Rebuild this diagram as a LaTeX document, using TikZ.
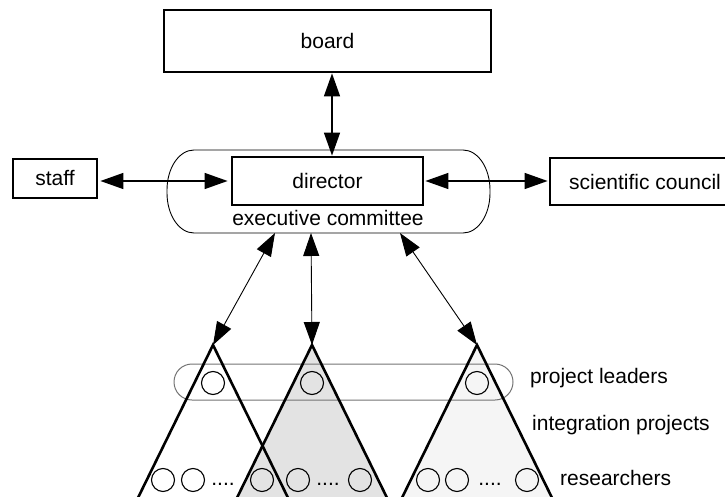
\documentclass[tikz,border=0pt]{standalone}
\usepackage{fontspec}
\setmainfont{Liberation Sans}
\usetikzlibrary{arrows.meta}
\begin{document}
\begin{tikzpicture}[x=1pt,y=1pt,
  every node/.style={font=\fontsize{21}{25}\selectfont},
  box/.style={draw, line width=2.8pt, inner sep=0pt},
  link/.style={{Triangle[length=23pt,width=16pt]}-{Triangle[length=23pt,width=16pt]}, line width=1.4pt},
  sublink/.style={link, line width=0.9pt},
  tri/.style={line width=2.6pt, line join=miter},
  member/.style={draw, circle, line width=1.1pt, minimum size=23pt, inner sep=0pt},
  ellipsis/.style={anchor=base, inner sep=0pt},
  sidetext/.style={anchor=base west, inner sep=0pt},
  band/.style={draw=black!55, line width=1pt, rounded corners=18pt, inner sep=0pt},
  fillmid/.style={fill=black!11},
  filllight/.style={fill=black!4}]
\useasboundingbox (0,0) rectangle (725,-497);

% top level boxes
\node[box, minimum width=327pt, minimum height=62pt] (board) at (327.5,-41) {board};
\node[box, minimum width=191pt, minimum height=48pt] (director) at (327.5,-181) {director};
\node[box, minimum width=84pt, minimum height=39pt] (staff) at (55,-178.5) {staff};
\node[box, minimum width=190pt, minimum height=47pt] (council) at (645,-181.5) {scientific council};

% executive committee outline (elliptical ends)
\draw[line width=0.9pt] (194,-150) -- (463,-150)
  arc[start angle=90,end angle=0,x radius=27,y radius=40] -- (490,-193)
  arc[start angle=0,end angle=-90,x radius=27,y radius=40] -- (194,-233)
  arc[start angle=270,end angle=180,x radius=27,y radius=40] -- (167,-190)
  arc[start angle=180,end angle=90,x radius=27,y radius=40] -- cycle;
\node[anchor=base, inner sep=0pt] (execlabel) at (328,-225) {executive committee};

% project triangles
\coordinate (t1) at (213,-345);
\coordinate (t2) at (312,-345);
\coordinate (t3) at (477,-345);
\fill[fillmid] (t2) -- ++(-81,-165) -- ++(162,0) -- cycle;
\fill[filllight] (t3) -- ++(-81,-165) -- ++(162,0) -- cycle;

% project leaders band
\node[band, minimum width=339pt, minimum height=36pt] (leaders) at (343.5,-382) {};

\draw[tri] (t1) ++(-81,-165) -- (t1) -- ++(81,-165);
\draw[tri] (t2) ++(-81,-165) -- (t2) -- ++(81,-165);
\draw[tri] (t3) ++(-81,-165) -- (t3) -- ++(81,-165);

% project leaders
\node[member] (l1) at (213,-383) {};
\node[member] (l2) at (312,-383) {};
\node[member] (l3) at (477,-383) {};

% researchers
\node[member] (r11) at (163,-480) {};
\node[member] (r12) at (193,-480) {};
\node[ellipsis] (d1) at (223,-485) {....};
\node[member] (r13) at (262,-480) {};
\node[member] (r21) at (298,-480) {};
\node[ellipsis] (d2) at (328,-485) {....};
\node[member] (r22) at (360,-480) {};
\node[member] (r31) at (428,-480) {};
\node[member] (r32) at (457,-480) {};
\node[ellipsis] (d3) at (490,-485) {....};
\node[member] (r33) at (527,-480) {};

% side labels
\node[sidetext] (pl) at (530,-383) {project leaders};
\node[sidetext] (ip) at (532,-430) {integration projects};
\node[sidetext] (rs) at (560,-485) {researchers};

% connectors
\coordinate (bx) at (332,0);
\draw[link] (board.south -| bx) -- (director.north -| bx);
\draw[link, shorten <=2pt, shorten >=3pt] (staff.east |- director.west) -- (director.west);
\draw[link, shorten <=1pt, shorten >=1pt] (director.east) -- (council.west |- director.east);
\coordinate (e1) at (275,-233);
\coordinate (e2) at (311,-233);
\coordinate (e3) at (400,-233);
\draw[sublink] (e1) -- (t1);
\draw[sublink] (e2) -- (t2);
\draw[sublink] (e3) -- (t3);
\end{tikzpicture}
\end{document}
